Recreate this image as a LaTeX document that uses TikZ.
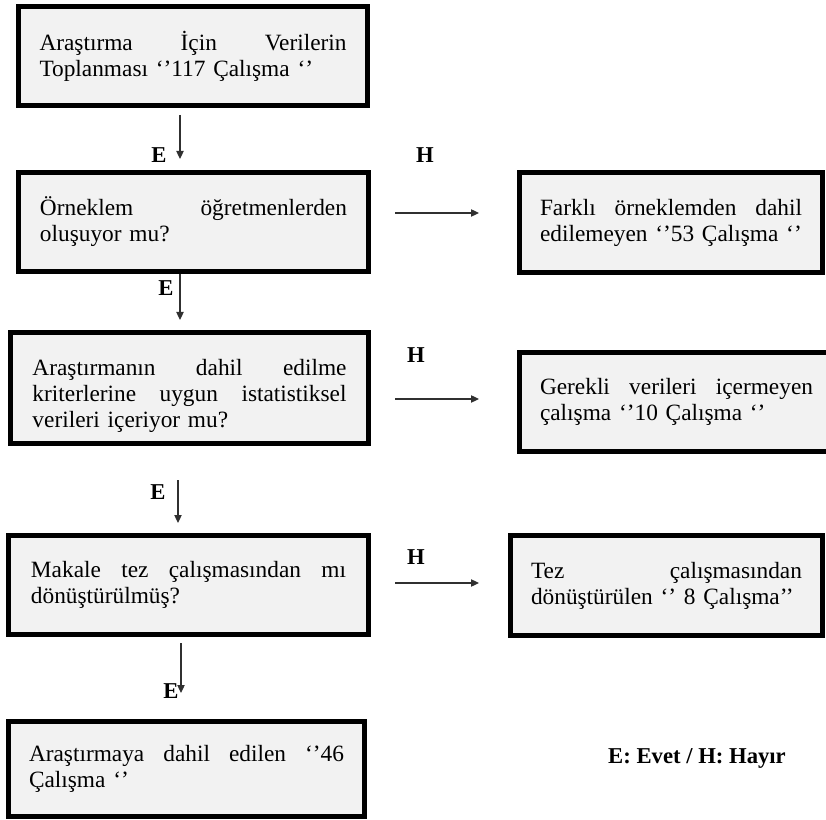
\documentclass[tikz,border=0pt]{standalone}
\usepackage{fontspec}
\setmainfont{Liberation Serif}
\usepackage{tikz}
\usetikzlibrary{arrows.meta, positioning}
\definecolor{boxFill}{HTML}{F2F2F2}
\definecolor{flowLine}{HTML}{303030}

\begin{document}
\begin{tikzpicture}[
  x=0.75pt, y=-0.75pt,
  box/.style={draw=black, fill=boxFill, line width=3.75pt, inner sep=0pt,
              align=left, font=\fontsize{17.5}{19.5}\selectfont},
  flow/.style={-{Triangle[length=6pt,width=5.5pt]}, flowLine, line width=0.9pt},
  lbl/.style={font=\fontsize{17}{19.5}\selectfont\bfseries, inner sep=0pt}
]
  \clip (0,0) rectangle (826,820);

  % main column
  \node[box, minimum width=261.75pt, minimum height=74.25pt, text width=230.25pt] (collect) at (193,56)
    {Araştırma\hfill İçin\hfill Verilerin\\Toplanması ‘’117 Çalışma ‘’};
  \node[box, minimum width=262.5pt, minimum height=74.25pt, text width=230.25pt] (sample) at (193.5,222)
    {Örneklem\hfill öğretmenlerden\\oluşuyor mu?};
  \node[box, minimum width=268.5pt, minimum height=83.25pt, text width=235.5pt] (criteria) at (189.5,388)
    {\rule{0pt}{23.5pt}Araştırmanın\hfill dahil\hfill edilme\\kriterlerine\hfill uygun\hfill istatistiksel\\verileri içeriyor mu?};
  \node[box, minimum width=270pt, minimum height=74.25pt, text width=236.25pt] (thesis) at (188.5,585)
    {Makale\hfill tez\hfill çalışmasından\hfill mı\\dönüştürülmüş?};
  \node[box, minimum width=267pt, minimum height=71.25pt, text width=236.25pt] (included) at (186.5,769)
    {Araştırmaya\hfill dahil\hfill edilen\hfill ‘’46\\Çalışma ‘’};

  % excluded studies
  \node[box, minimum width=227.25pt, minimum height=75pt, text width=196.5pt] (exSample) at (671,222.5)
    {Farklı\hfill örneklemden\hfill dahil\\edilemeyen ‘’53 Çalışma ‘’};
  \node[box, minimum width=235.5pt, minimum height=74.25pt, text width=204.75pt] (exData) at (676.5,402)
    {Gerekli\hfill verileri\hfill içermeyen\\çalışma ‘’10 Çalışma ‘’};
  \node[box, minimum width=234pt, minimum height=75pt, text width=203.25pt] (exThesis) at (666.5,585.5)
    {Tez\hfill çalışmasından\\dönüştürülen ‘’ 8 Çalışma’’};

  % free arrow ends
  \coordinate (e1a) at (180,115);  \coordinate (e1b) at (180,159);
  \coordinate (e2a) at (180,274);  \coordinate (e2b) at (180,320);
  \coordinate (e3a) at (178,480);  \coordinate (e3b) at (178,523);
  \coordinate (e4a) at (181,643);  \coordinate (e4b) at (181,693);
  \coordinate (h1a) at (395,213);  \coordinate (h1b) at (479,213);
  \coordinate (h2a) at (395,399);  \coordinate (h2b) at (479,399);
  \coordinate (h3a) at (395,583);  \coordinate (h3b) at (479,583);

  \draw[flow] (e1a) -- (e1b);
  \draw[flow] (e2a) -- (e2b);
  \draw[flow] (e3a) -- (e3b);
  \draw[flow] (e4a) -- (e4b);
  \draw[flow] (h1a) -- (h1b);
  \draw[flow] (h2a) -- (h2b);
  \draw[flow] (h3a) -- (h3b);

  \node[lbl] (yes1) at (159,155) {E};
  \node[lbl] (yes2) at (166,288) {E};
  \node[lbl] (yes3) at (158,492) {E};
  \node[lbl] (yes4) at (171,691) {E};
  \node[lbl] (no1) at (425,155) {H};
  \node[lbl] (no2) at (416,355) {H};
  \node[lbl] (no3) at (416,557) {H};

  \node[lbl] (legend) at (697,758) {E: Evet / H: Hayır};
\end{tikzpicture}
\end{document}
